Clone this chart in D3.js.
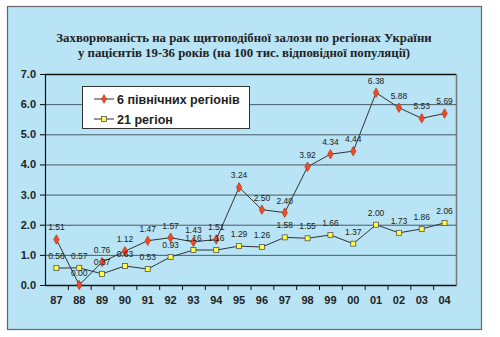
<!DOCTYPE html>
<html><head><meta charset="utf-8">
<script src="https://cdn.jsdelivr.net/npm/d3@7"></script>
<style>html,body{margin:0;padding:0;background:#fff;}svg{display:block;}</style>
</head><body>
<svg id="c" width="500" height="337"></svg>
<script>
const years = ["87","88","89","90","91","92","93","94","95","96","97","98","99","00","01","02","03","04"];
const north6 = [1.51,0.00,0.76,1.12,1.47,1.57,1.43,1.51,3.24,2.50,2.40,3.92,4.34,4.44,6.38,5.88,5.53,5.69];
const regions21 = [0.56,0.57,0.37,0.63,0.53,0.93,1.16,1.16,1.29,1.26,1.58,1.55,1.66,1.37,2.00,1.73,1.86,2.06];
const yTicks = [0,1,2,3,4,5,6,7];
const seriesNames = ["6 північних регіонів","21 регіон"];
const titleLines = ["Захворюваність  на рак щитоподібної залози по регіонах  України","у пацієнтів  19-36 років (на 100 тис. відповідної популяції)"];

const svg = d3.select("#c");
svg.append("rect").attr("x",7.5).attr("y",6.5).attr("width",474).attr("height",323)
  .attr("fill","#b8e4f6").attr("stroke","#666").attr("stroke-width",1.2);

svg.selectAll("text.title").data(titleLines).join("text")
  .attr("x",244).attr("y",(d,i)=>42+i*15).attr("text-anchor","middle")
  .attr("font-family","Liberation Serif, serif").attr("font-weight","bold").attr("font-size",12.8)
  .attr("fill","#222").text(d=>d);

const L=45, R=456, T=74, B=285;
const x = d3.scaleBand().domain(years).range([L,R]);
const y = d3.scaleLinear().domain([0,7]).range([B,T]);
const cx = d => x(d)+x.bandwidth()/2;

svg.append("g").selectAll("line").data(yTicks.filter(d=>d>0)).join("line")
  .attr("x1",L).attr("x2",R).attr("y1",d=>y(d)+0.5).attr("y2",d=>y(d)+0.5)
  .attr("stroke",d=>d===7?"#111":"#4a5a62").attr("stroke-width",d=>d===7?1.5:1);
svg.append("line").attr("x1",R+0.5).attr("x2",R+0.5).attr("y1",T).attr("y2",B)
  .attr("stroke","#777").attr("stroke-width",1.5);

const ya = svg.append("g").attr("transform",`translate(${L},0)`)
  .call(d3.axisLeft(y).tickValues(yTicks).tickFormat(d3.format(".1f")).tickSize(5));
ya.select(".domain").attr("stroke","#111").attr("stroke-width",1.2);
ya.selectAll("text").attr("font-family","Liberation Sans, Arial, sans-serif").attr("font-weight","bold")
  .attr("font-size",11).attr("fill","#222").attr("x",-9);

const xa = svg.append("g").attr("transform",`translate(0,${B})`)
  .call(d3.axisBottom(x).tickSize(0).tickPadding(11));
xa.select(".domain").attr("stroke","#111").attr("stroke-width",1.5);
xa.selectAll("text").attr("font-family","Liberation Sans, Arial, sans-serif").attr("font-weight","bold")
  .attr("font-size",11).attr("fill","#222");
svg.append("g").selectAll("line").data(years.slice(1)).join("line")
  .attr("x1",d=>x(d)+0.5).attr("x2",d=>x(d)+0.5).attr("y1",B).attr("y2",B+5)
  .attr("stroke","#111");

const line = d3.line().x((d,i)=>cx(years[i])).y(d=>y(d));

svg.append("path").datum(regions21).attr("d",line).attr("fill","none").attr("stroke","#333").attr("stroke-width",1);
svg.append("path").datum(north6).attr("d",line).attr("fill","none").attr("stroke","#333").attr("stroke-width",1);

svg.append("g").selectAll("rect").data(regions21).join("rect")
  .attr("x",(d,i)=>cx(years[i])-2.5).attr("y",d=>y(d)-2.5).attr("width",5).attr("height",5)
  .attr("fill","#ffff40").attr("stroke","#555").attr("stroke-width",0.8);
svg.append("g").selectAll("path").data(north6).join("path")
  .attr("transform",(d,i)=>`translate(${cx(years[i])},${y(d)})`)
  .attr("d",d3.symbol(d3.symbolDiamond,26)).attr("fill","#f04a24").attr("stroke","#b02a10").attr("stroke-width",0.6);

const lab = (arr) => svg.append("g").selectAll("text").data(arr).join("text")
  .attr("x",(d,i)=>cx(years[i])).attr("y",d=>y(d)-9).attr("text-anchor","middle")
  .attr("font-family","Liberation Sans, Arial, sans-serif").attr("font-size",8.5).attr("fill","#222")
  .text(d=>d.toFixed(2));
lab(regions21);
lab(north6);

const lg = svg.append("g");
lg.append("rect").attr("x",82.5).attr("y",86.5).attr("width",167).attr("height",42)
  .attr("fill","#fff").attr("stroke","#333").attr("stroke-width",1);
seriesNames.forEach((n,i)=>{
  const yy = 99 + i*20;
  lg.append("line").attr("x1",94).attr("x2",114).attr("y1",yy).attr("y2",yy).attr("stroke","#333");
  if(i===0) lg.append("path").attr("transform",`translate(104,${yy})`).attr("d",d3.symbol(d3.symbolDiamond,22)).attr("fill","#f04a24").attr("stroke","#b02a10").attr("stroke-width",0.6);
  else lg.append("rect").attr("x",101.5).attr("y",yy-2.5).attr("width",5).attr("height",5).attr("fill","#ffff40").attr("stroke","#555").attr("stroke-width",0.8);
  lg.append("text").attr("x",117).attr("y",yy+4.5).attr("font-family","Liberation Sans, Arial, sans-serif")
    .attr("font-weight","bold").attr("font-size",12.5).attr("fill","#222").text(n);
});
</script>
</body></html>
